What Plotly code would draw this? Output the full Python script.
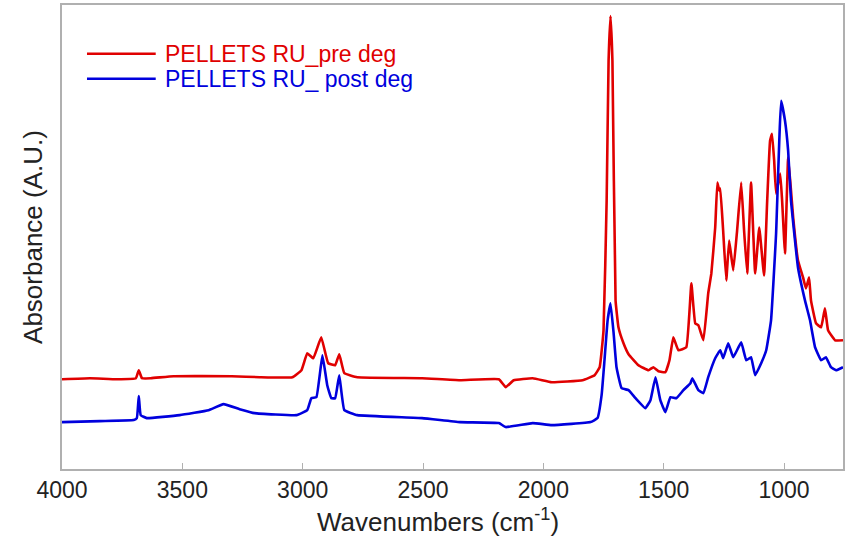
import plotly.graph_objects as go

# Wavenumbers (cm^-1) and absorbance (A.U.)
pre_wn = [4000, 3884, 3772, 3693, 3681, 3668, 3631, 3536, 3295, 3179, 3043, 3005,
          2981, 2956, 2923, 2894, 2865, 2848, 2827, 2773, 2504, 2347, 2185, 2156,
          2123, 2044, 1965, 1837, 1787, 1766, 1750, 1737, 1729, 1721, 1713, 1700,
          1688, 1667, 1646, 1605, 1563, 1543, 1522, 1493, 1476, 1460, 1439, 1406,
          1385, 1369, 1356, 1335, 1315, 1302, 1286, 1277, 1269, 1265, 1253, 1240,
          1228, 1211, 1195, 1178, 1166, 1153, 1137, 1120, 1103, 1083, 1070, 1058,
          1050, 1041, 1033, 1016, 1008, 996, 983, 971, 962, 942, 921, 909, 896,
          888, 867, 846, 830, 817, 788, 755]
pre_abs = [0.225, 0.2275, 0.225, 0.2275, 0.2475, 0.2275, 0.2275, 0.2325, 0.2325,
           0.23, 0.23, 0.2475, 0.29, 0.2775, 0.33, 0.265, 0.26, 0.2875, 0.24, 0.23,
           0.2275, 0.2225, 0.225, 0.205, 0.2225, 0.2275, 0.2175, 0.2225, 0.235,
           0.255, 0.3475, 0.6725, 1.0225, 1.135, 1.0225, 0.4225, 0.355, 0.315,
           0.2875, 0.26, 0.2475, 0.255, 0.245, 0.2425, 0.2725, 0.33, 0.2975, 0.305,
           0.465, 0.365, 0.36, 0.3225, 0.44, 0.49, 0.605, 0.7175, 0.6975, 0.7025,
           0.5975, 0.4725, 0.5725, 0.4975, 0.5975, 0.7175, 0.5975, 0.49, 0.7175,
           0.49, 0.605, 0.485, 0.6725, 0.8225, 0.84, 0.7725, 0.69, 0.74, 0.6725,
           0.54, 0.78, 0.6975, 0.63, 0.5225, 0.48, 0.4525, 0.48, 0.4225, 0.365,
           0.355, 0.4025, 0.3475, 0.3225, 0.3225]

post_wn = [4000, 3843, 3702, 3689, 3681, 3673, 3648, 3511, 3391, 3329, 3262, 3200,
           3026, 2981, 2964, 2943, 2918, 2898, 2881, 2865, 2848, 2827, 2773, 2504,
           2347, 2185, 2156, 2044, 1965, 1804, 1775, 1758, 1746, 1733, 1721, 1708,
           1696, 1675, 1646, 1617, 1576, 1555, 1534, 1514, 1493, 1472, 1447, 1418,
           1389, 1381, 1356, 1335, 1315, 1286, 1265, 1253, 1232, 1211, 1178, 1157,
           1137, 1120, 1095, 1074, 1054, 1033, 1012, 996, 983, 971, 942, 913, 892,
           871, 846, 826, 805, 784, 755]
post_abs = [0.1175, 0.12, 0.1225, 0.1275, 0.1825, 0.135, 0.1275, 0.135, 0.1475,
            0.1625, 0.15, 0.14, 0.135, 0.1475, 0.1775, 0.18, 0.285, 0.21, 0.1775,
            0.1775, 0.235, 0.1475, 0.135, 0.1275, 0.1175, 0.115, 0.105, 0.115,
            0.11, 0.1175, 0.1275, 0.185, 0.2725, 0.3725, 0.415, 0.34, 0.255,
            0.2025, 0.1975, 0.1775, 0.1525, 0.1725, 0.23, 0.1725, 0.1425, 0.18,
            0.1775, 0.1975, 0.215, 0.2275, 0.1975, 0.19, 0.23, 0.2775, 0.2975,
            0.2775, 0.315, 0.28, 0.3175, 0.2725, 0.28, 0.235, 0.265, 0.2975,
            0.3725, 0.59, 0.9225, 0.8725, 0.7975, 0.6725, 0.505, 0.4225, 0.3725,
            0.305, 0.2725, 0.28, 0.255, 0.2475, 0.255]

series_names = ["PELLETS RU_pre deg", "PELLETS RU_ post deg"]
series_colors = ["#e00000", "#0000dd"]

x_ticks = [4000, 3500, 3000, 2500, 2000, 1500, 1000]

FONT = "Liberation Sans, Arial, sans-serif"

fig = go.Figure()
for wn, ab, name, col in [(pre_wn, pre_abs, series_names[0], series_colors[0]),
                          (post_wn, post_abs, series_names[1], series_colors[1])]:
    fig.add_trace(go.Scatter(x=wn, y=ab, mode="lines", name=name,
                             line=dict(color=col, width=2.6, shape="spline", smoothing=0.3),
                             showlegend=False))

# manual legend (line sample + coloured text)
for i, (name, col) in enumerate(zip(series_names, series_colors)):
    yp = 0.895 - i * 0.054
    fig.add_shape(type="line", xref="paper", yref="paper",
                  x0=0.032, x1=0.120, y0=yp, y1=yp,
                  line=dict(color=col, width=2.6))
    fig.add_annotation(xref="paper", yref="paper", x=0.129, y=yp,
                       text=name, showarrow=False, xanchor="left", yanchor="middle",
                       font=dict(family=FONT, size=23, color=col))

# x-axis title
fig.add_annotation(xref="paper", yref="paper", x=0.482, y=-0.112,
                   text="Wavenumbers (cm<sup>-1</sup>)", showarrow=False,
                   xanchor="center", yanchor="middle",
                   font=dict(family=FONT, size=26, color="#222222"))

axis_common = dict(showline=True, mirror=True, linecolor="#b0b0b0", linewidth=1.5,
                   showgrid=False, zeroline=False)

fig.update_layout(
    width=848, height=545,
    margin=dict(l=62, r=3, t=4, b=76),
    paper_bgcolor="white", plot_bgcolor="white",
    font=dict(family=FONT, color="#222222"),
    xaxis=dict(range=[4000, 755], tickvals=x_ticks, ticks="inside", ticklen=6,
               tickcolor="#b0b0b0", tickwidth=1,
               tickfont=dict(family=FONT, size=23, color="#222222"),
               **axis_common),
    yaxis=dict(range=[0, 1.1625], showticklabels=False, ticks="",
               title=dict(text="Absorbance (A.U.)",
                          font=dict(family=FONT, size=26, color="#222222"), standoff=10),
               **axis_common),
)

fig.write_html("out.html")
